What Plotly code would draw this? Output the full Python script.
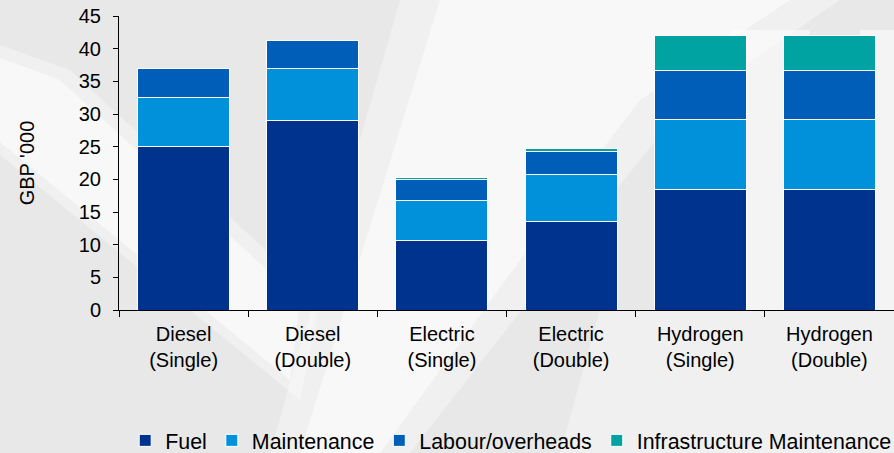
import plotly.graph_objects as go

# Annual cost breakdown per drivetrain option (GBP '000)
categories = [
    "Diesel<br>(Single)", "Diesel<br>(Double)",
    "Electric<br>(Single)", "Electric<br>(Double)",
    "Hydrogen<br>(Single)", "Hydrogen<br>(Double)",
]
fuel = [25.0, 29.0, 10.7, 13.6, 18.5, 18.5]
maintenance = [7.6, 7.9, 6.1, 7.2, 10.7, 10.7]
labour_overheads = [4.4, 4.4, 3.1, 3.5, 7.5, 7.5]
infrastructure_maintenance = [0.0, 0.0, 0.35, 0.35, 5.3, 5.3]

series = [
    ("Fuel", fuel, "#00338D"),
    ("Maintenance", maintenance, "#0091DA"),
    ("Labour/overheads", labour_overheads, "#005EB8"),
    ("Infrastructure Maintenance", infrastructure_maintenance, "#00A3A1"),
]

FONT = "Liberation Sans, Arial, sans-serif"
W, H = 894, 453
ML, MR, MT, MB = 119, 0, 16, 143

fig = go.Figure()
for name, vals, col in series:
    fig.add_trace(go.Bar(
        name=name, x=categories, y=vals,
        marker=dict(color=col, line=dict(color="white", width=1)),
    ))


def to_paper(pts):
    """Convert page pixel points to plot-area paper coordinates."""
    pw, ph = W - ML - MR, H - MT - MB
    return [((x - ML) / pw, (H - MB - y) / ph) for x, y in pts]


def poly_path(pts):
    p = to_paper(pts)
    return "M " + " L ".join(f"{x:.4f},{y:.4f}" for x, y in p) + " Z"


# soft light background bands
bands = [
    # diagonal from the upper left
    ([(0, 45), (70, 70), (320, 300), (300, 400), (0, 155)], 0.35),
    ([(0, 58), (60, 80), (300, 300), (290, 380), (0, 142)], 0.55),
    # diagonal rising to the upper right
    ([(270, 453), (410, 453), (600, 210), (680, 110), (840, 0), (400, 0)], 0.35),
    ([(300, 453), (380, 453), (560, 205), (640, 100), (790, 0), (440, 0)], 0.55),
    # lighter right-hand area
    ([(730, 30), (810, 30), (810, 310), (730, 310)], 0.5),
    ([(600, 310), (894, 310), (894, 453), (560, 453)], 0.35),
    ([(860, 30), (894, 30), (894, 310), (860, 310)], 0.5),
]
shapes = []
for pts, op in bands:
    shapes.append(dict(
        type="path", path=poly_path(pts), xref="paper", yref="paper",
        fillcolor="white", opacity=op, line=dict(width=0), layer="below",
    ))

fig.update_layout(
    width=W, height=H,
    barmode="stack", bargap=0.287,
    paper_bgcolor="#e8e8e8", plot_bgcolor="rgba(0,0,0,0)",
    margin=dict(l=ML, r=MR, t=MT, b=MB, autoexpand=False),
    font=dict(family=FONT, size=20, color="#000000"),
    shapes=shapes,
    showlegend=True,
    legend=dict(
        orientation="h", x=0.008, xanchor="left", y=-0.374, yanchor="top",
        font=dict(family=FONT, size=21.4, color="#000000"),
        bgcolor="rgba(0,0,0,0)", itemwidth=30, traceorder="normal",
    ),
)
fig.update_xaxes(
    showline=True, linecolor="#000000", linewidth=1,
    ticks="outside", ticklen=6, tickcolor="#000000", tickson="boundaries",
    ticklabelstandoff=6, automargin=False,
    showgrid=False, tickfont=dict(family=FONT, size=20, color="#000000"),
)
fig.update_yaxes(
    range=[0, 45], dtick=5, showline=True, linecolor="#000000", linewidth=1,
    ticks="outside", ticklen=5, tickcolor="#000000", showgrid=False,
    ticklabelstandoff=8, automargin=False,
    zeroline=False, tickfont=dict(family=FONT, size=20, color="#000000"),
    title=dict(text="GBP '000", font=dict(family=FONT, size=20, color="#000000"), standoff=38),
)

fig.write_html("out.html")
